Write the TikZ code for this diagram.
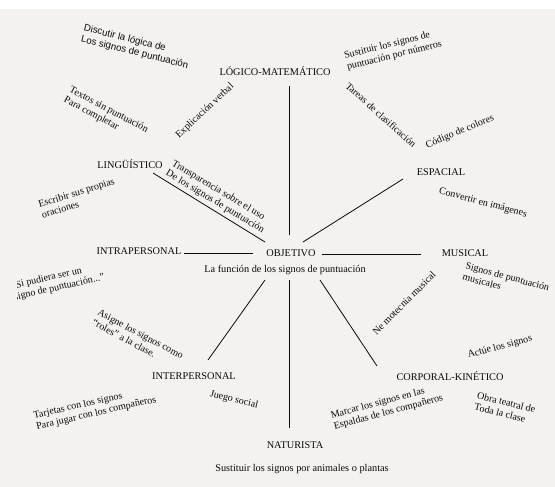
\documentclass[tikz,border=0pt]{standalone}
\usepackage{fontspec}
\setmainfont{Liberation Serif}
\newfontfamily\arialfont{Liberation Sans}
\usetikzlibrary{calc}
\definecolor{bgc}{HTML}{F3F2F0}
\definecolor{ink}{HTML}{0A0A0A}
\tikzset{
  lbl/.style={font=\fontsize{10.3}{12}\selectfont, inner sep=0pt, text=ink},
  ann/.style={font=\fontsize{10}{11.5}\selectfont, align=left, inner sep=0pt, text=ink},
  conn/.style={draw=ink, line width=0.8pt}
}
\begin{document}
\begin{tikzpicture}[x=1pt,y=-1pt]
\useasboundingbox (0,0) rectangle (555,487);
\fill[bgc] (0,0) rectangle (555,487);
\fill[white] (0,0) rectangle (555,9);

% main labels
\node[lbl] (logico) at (275,71) {LÓGICO-MATEMÁTICO};
\node[lbl] (ling) at (130,164) {LINGÜÍSTICO};
\node[lbl] (espacial) at (441,172) {ESPACIAL};
\node[lbl] (intra) at (139,251) {INTRAPERSONAL};
\node[lbl] (obj) at (291,253) {OBJETIVO};
\node[lbl] (sub) at (285,270) {La función de los signos de puntuación};
\node[lbl] (musical) at (465,253) {MUSICAL};
\node[lbl] (inter) at (194,376) {INTERPERSONAL};
\node[lbl] (corp) at (450,376) {CORPORAL-KINÉTICO};
\node[lbl] (nat) at (295,445) {NATURISTA};
\node[lbl] (natsub) at (302,469) {Sustituir los signos por animales o plantas};

% connectors
\draw[conn] ($(obj)+(-2,-18)$) -- ($(logico)+(14,15)$);
\draw[conn] ($(obj)+(12,-11)$) -- ($(espacial)+(-38,7)$);
\draw[conn] ($(obj)+(31,1)$) -- ($(musical)+(-44,1)$);
\draw[conn] ($(obj)+(-26,-11)$) -- ($(ling)+(23,9)$);
\draw[conn] ($(obj)+(-38,0)$) -- ($(intra)+(45,2)$);
\draw[conn] ($(obj)+(-26,27)$) -- ($(inter)+(14,-16)$);
\draw[conn] ($(obj)+(-2,27)$) -- ($(nat)+(-6,-17)$);
\draw[conn] ($(obj)+(29,27)$) -- ($(corp)+(-73,-10)$);

% annotations
\node[ann, font=\arialfont\fontsize{9.7}{11.5}\selectfont, rotate=-14] (a1) at (136,47) {Discutir la lógica de\\Los signos de puntuación};
\node[ann, rotate=-28] (a2) at (106,115) {Textos sin puntuación\\Para completar};
\node[ann, rotate=43] (a3) at (205,111) {Explicación verbal};
\node[ann, rotate=14] (a4) at (393,50) {Sustituir los signos de\\puntuación por números};
\node[ann, rotate=-42] (a5) at (381,115) {Tareas de clasificación};
\node[ann, rotate=23] (a6) at (460,132) {Código de colores};
\node[ann, rotate=-15] (a7) at (483,203) {Convertir en imágenes};
\node[ann, rotate=17] (a8) at (78,198) {Escribir sus propias\\oraciones};
\node[ann, rotate=-31] (a9) at (218,197) {Transparencia sobre el uso\\De los signos de puntuación};
\begin{scope}
\clip (17,0) rectangle (555,487);
\node[ann, rotate=13] (a10) at (58,282) {“Si pudiera ser un\\signo de puntuación...”};
\end{scope}
\node[ann, rotate=-28] (a11) at (138,339) {Asigne los signos como\\“roles” a la clase.};
\node[ann, rotate=13] (a12) at (95,408) {Tarjetas con los signos\\Para jugar con los compañeros};
\node[ann, rotate=-14] (a13) at (234,400) {Juego social};
\node[ann, rotate=45] (a14) at (404,303) {Ne motecnia musical};
\node[ann, rotate=-15] (a15) at (506,282) {Signos de puntuación\\musicales};
\node[ann, rotate=15] (a16) at (500,347) {Actúe los signos};
\node[ann, rotate=15] (a17) at (387,407) {Marcar los signos en las\\Espaldas de los compañeros};
\node[ann, rotate=-14] (a18) at (505,408) {Obra teatral de\\Toda la clase};
\end{tikzpicture}
\end{document}
